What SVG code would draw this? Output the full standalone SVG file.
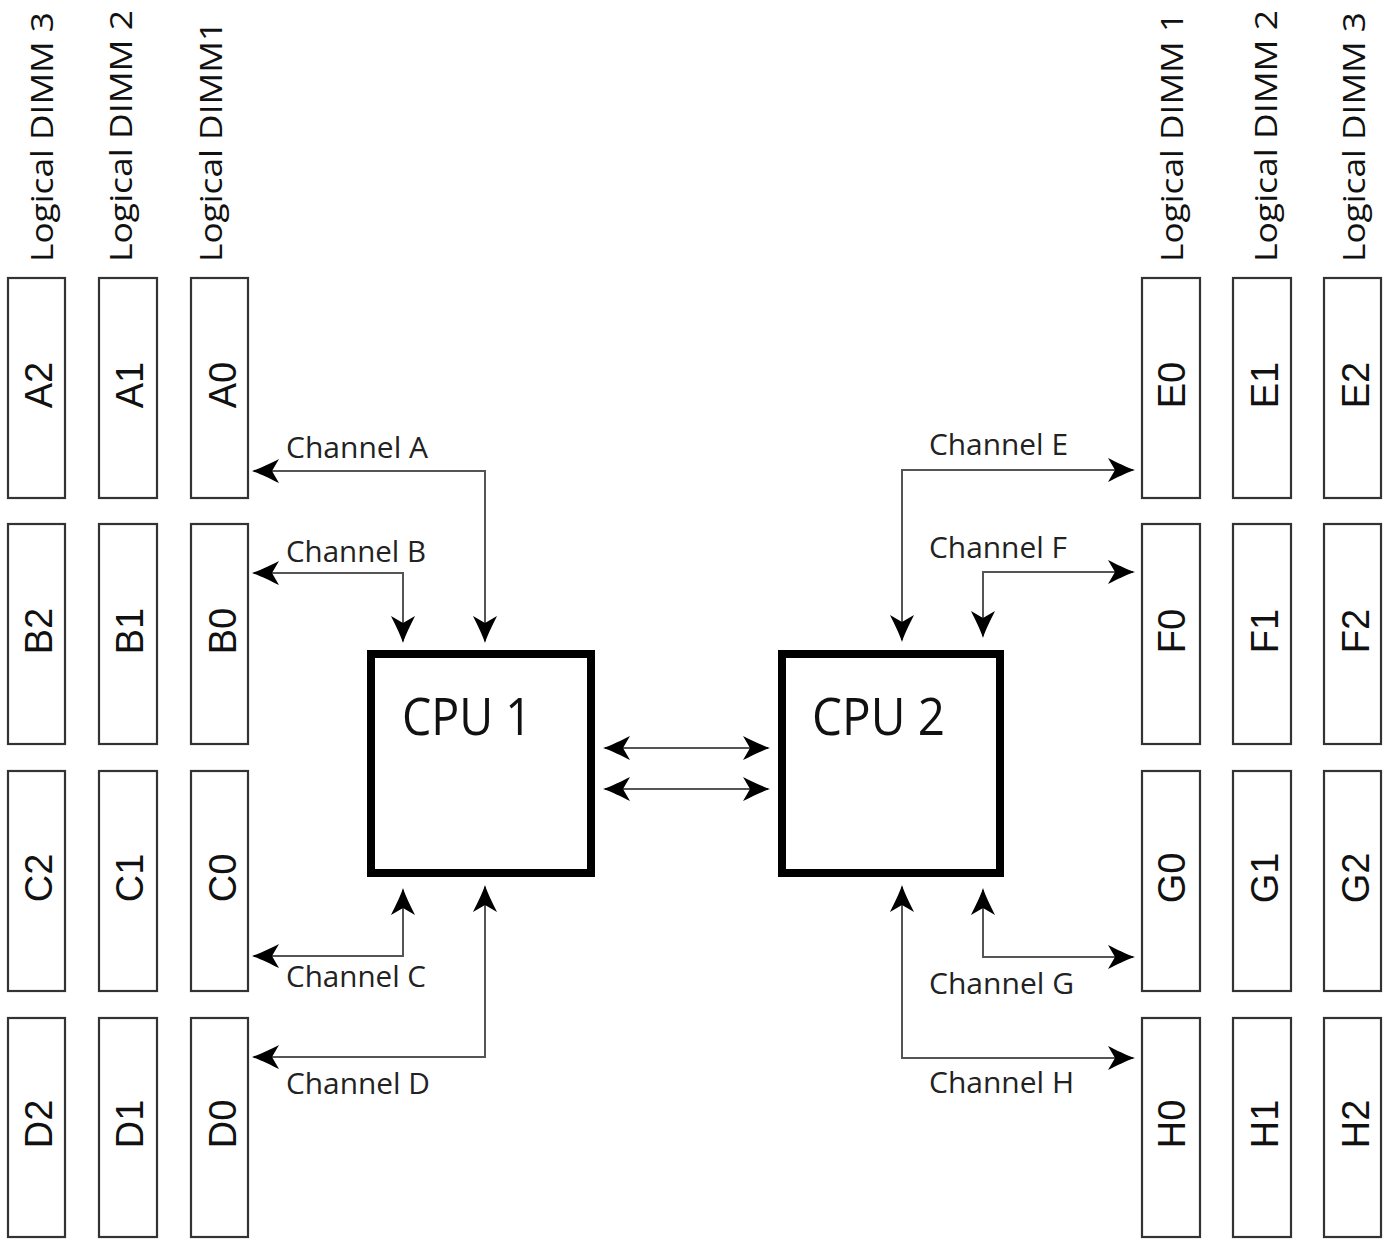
<svg xmlns="http://www.w3.org/2000/svg" width="1390" height="1241" viewBox="0 0 1390 1241">
<style>
.bg{fill:#fff}
.dimm{fill:#fff;stroke:#333;stroke-width:2.2}
.dl{font-family:"Liberation Sans",Arial,sans-serif;font-size:38px;fill:#111;text-anchor:middle}
.hdr{font-family:"Open Sans","Noto Sans",sans-serif;font-size:31px;fill:#111}
.cpu{fill:#fff;stroke:#000;stroke-width:8}
.cpul{font-family:"Open Sans","Noto Sans",sans-serif;font-size:52px;fill:#111}
.ch{font-family:"Open Sans","Noto Sans",sans-serif;font-size:29px;fill:#222}
.con{fill:none;stroke:#555;stroke-width:2;marker-start:url(#ah);marker-end:url(#ah)}
</style>
<defs>
<marker id="ah" markerUnits="userSpaceOnUse" markerWidth="28" markerHeight="24" viewBox="0 0 28 24" refX="26" refY="12" orient="auto-start-reverse">
<path d="M28,12 C20,9.5 9,4 1,0 L8,12 L1,24 C9,20 20,14.5 28,12 Z" fill="#000"/>
</marker>
</defs>
<rect class="bg" x="0" y="0" width="1390" height="1241"/>

<g id="headers">
<text class="hdr" x="53" y="262" transform="rotate(-90 53 262)" textLength="250" lengthAdjust="spacingAndGlyphs">Logical DIMM 3</text>
<text class="hdr" x="132" y="262" transform="rotate(-90 132 262)" textLength="252" lengthAdjust="spacingAndGlyphs">Logical DIMM 2</text>
<text class="hdr" x="222" y="262" transform="rotate(-90 222 262)" textLength="241" lengthAdjust="spacingAndGlyphs">Logical DIMM1</text>
<text class="hdr" x="1183" y="262" transform="rotate(-90 1183 262)" textLength="250" lengthAdjust="spacingAndGlyphs">Logical DIMM 1</text>
<text class="hdr" x="1277" y="262" transform="rotate(-90 1277 262)" textLength="252" lengthAdjust="spacingAndGlyphs">Logical DIMM 2</text>
<text class="hdr" x="1365" y="262" transform="rotate(-90 1365 262)" textLength="250" lengthAdjust="spacingAndGlyphs">Logical DIMM 3</text>
</g>

<g id="dimm-A2"><rect class="dimm" x="8" y="278" width="57" height="220"/><text class="dl" x="52" y="385" transform="rotate(-90 52 385)">A2</text></g>
<g id="dimm-A1"><rect class="dimm" x="99" y="278" width="58" height="220"/><text class="dl" x="143" y="385" transform="rotate(-90 143 385)">A1</text></g>
<g id="dimm-A0"><rect class="dimm" x="191" y="278" width="57" height="220"/><text class="dl" x="236" y="385" transform="rotate(-90 236 385)">A0</text></g>
<g id="dimm-B2"><rect class="dimm" x="8" y="524" width="57" height="220"/><text class="dl" x="52" y="631" transform="rotate(-90 52 631)">B2</text></g>
<g id="dimm-B1"><rect class="dimm" x="99" y="524" width="58" height="220"/><text class="dl" x="143" y="631" transform="rotate(-90 143 631)">B1</text></g>
<g id="dimm-B0"><rect class="dimm" x="191" y="524" width="57" height="220"/><text class="dl" x="236" y="631" transform="rotate(-90 236 631)">B0</text></g>
<g id="dimm-C2"><rect class="dimm" x="8" y="771" width="57" height="220"/><text class="dl" x="52" y="878" transform="rotate(-90 52 878)">C2</text></g>
<g id="dimm-C1"><rect class="dimm" x="99" y="771" width="58" height="220"/><text class="dl" x="143" y="878" transform="rotate(-90 143 878)">C1</text></g>
<g id="dimm-C0"><rect class="dimm" x="191" y="771" width="57" height="220"/><text class="dl" x="236" y="878" transform="rotate(-90 236 878)">C0</text></g>
<g id="dimm-D2"><rect class="dimm" x="8" y="1018" width="57" height="219"/><text class="dl" x="52" y="1124" transform="rotate(-90 52 1124)">D2</text></g>
<g id="dimm-D1"><rect class="dimm" x="99" y="1018" width="58" height="219"/><text class="dl" x="143" y="1124" transform="rotate(-90 143 1124)">D1</text></g>
<g id="dimm-D0"><rect class="dimm" x="191" y="1018" width="57" height="219"/><text class="dl" x="236" y="1124" transform="rotate(-90 236 1124)">D0</text></g>

<g id="dimm-E0"><rect class="dimm" x="1142" y="278" width="58" height="220"/><text class="dl" x="1185" y="385" transform="rotate(-90 1185 385)">E0</text></g>
<g id="dimm-E1"><rect class="dimm" x="1233" y="278" width="58" height="220"/><text class="dl" x="1278" y="385" transform="rotate(-90 1278 385)">E1</text></g>
<g id="dimm-E2"><rect class="dimm" x="1324" y="278" width="57" height="220"/><text class="dl" x="1369" y="385" transform="rotate(-90 1369 385)">E2</text></g>
<g id="dimm-F0"><rect class="dimm" x="1142" y="524" width="58" height="220"/><text class="dl" x="1185" y="631" transform="rotate(-90 1185 631)">F0</text></g>
<g id="dimm-F1"><rect class="dimm" x="1233" y="524" width="58" height="220"/><text class="dl" x="1278" y="631" transform="rotate(-90 1278 631)">F1</text></g>
<g id="dimm-F2"><rect class="dimm" x="1324" y="524" width="57" height="220"/><text class="dl" x="1369" y="631" transform="rotate(-90 1369 631)">F2</text></g>
<g id="dimm-G0"><rect class="dimm" x="1142" y="771" width="58" height="220"/><text class="dl" x="1185" y="878" transform="rotate(-90 1185 878)">G0</text></g>
<g id="dimm-G1"><rect class="dimm" x="1233" y="771" width="58" height="220"/><text class="dl" x="1278" y="878" transform="rotate(-90 1278 878)">G1</text></g>
<g id="dimm-G2"><rect class="dimm" x="1324" y="771" width="57" height="220"/><text class="dl" x="1369" y="878" transform="rotate(-90 1369 878)">G2</text></g>
<g id="dimm-H0"><rect class="dimm" x="1142" y="1018" width="58" height="219"/><text class="dl" x="1185" y="1124" transform="rotate(-90 1185 1124)">H0</text></g>
<g id="dimm-H1"><rect class="dimm" x="1233" y="1018" width="58" height="219"/><text class="dl" x="1278" y="1124" transform="rotate(-90 1278 1124)">H1</text></g>
<g id="dimm-H2"><rect class="dimm" x="1324" y="1018" width="57" height="219"/><text class="dl" x="1369" y="1124" transform="rotate(-90 1369 1124)">H2</text></g>

<g id="cpu1"><rect class="cpu" x="371" y="654" width="220" height="219"/><text class="cpul" x="402" y="735" textLength="130" lengthAdjust="spacingAndGlyphs">CPU 1</text></g>
<g id="cpu2"><rect class="cpu" x="782" y="654" width="218" height="219"/><text class="cpul" x="812" y="735" textLength="133" lengthAdjust="spacingAndGlyphs">CPU 2</text></g>

<g id="connectors">
<path class="con" d="M254,471 H485 V641"/>
<path class="con" d="M254,573 H403 V641"/>
<path class="con" d="M254,956 H403 V890"/>
<path class="con" d="M254,1057 H485 V887"/>
<path class="con" d="M1133,470 H902 V640"/>
<path class="con" d="M1133,572 H983 V636"/>
<path class="con" d="M1133,957 H983 V890"/>
<path class="con" d="M1133,1058 H902 V887"/>
<path class="con" d="M605,748 H768"/>
<path class="con" d="M605,789 H768"/>
</g>

<g id="channel-labels">
<text class="ch" x="286" y="458" textLength="142" lengthAdjust="spacingAndGlyphs">Channel A</text>
<text class="ch" x="286" y="562" textLength="140" lengthAdjust="spacingAndGlyphs">Channel B</text>
<text class="ch" x="286" y="987" textLength="140" lengthAdjust="spacingAndGlyphs">Channel C</text>
<text class="ch" x="286" y="1094" textLength="144" lengthAdjust="spacingAndGlyphs">Channel D</text>
<text class="ch" x="929" y="455" textLength="139" lengthAdjust="spacingAndGlyphs">Channel E</text>
<text class="ch" x="929" y="558" textLength="138" lengthAdjust="spacingAndGlyphs">Channel F</text>
<text class="ch" x="929" y="994" textLength="145" lengthAdjust="spacingAndGlyphs">Channel G</text>
<text class="ch" x="929" y="1093" textLength="145" lengthAdjust="spacingAndGlyphs">Channel H</text>
</g>
</svg>
